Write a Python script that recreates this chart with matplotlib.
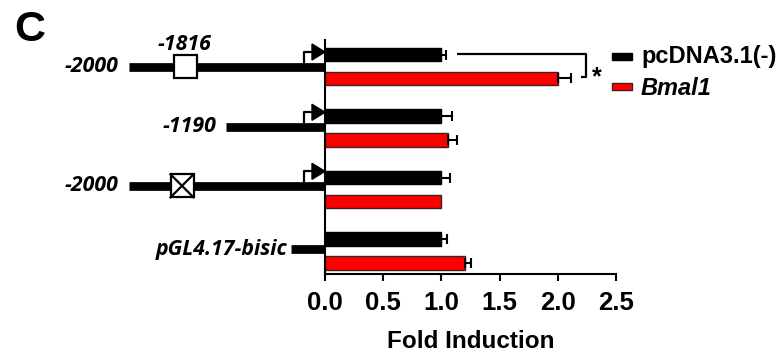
import matplotlib.pyplot as plt
from matplotlib.patches import Rectangle, Polygon

# fold induction per construct (top to bottom)
constructs = ['-2000', '-1190', '-2000 (mut)', 'pGL4.17-bisic']
ctrl_mean = [1.0, 1.0, 1.0, 1.0]
ctrl_err = [0.04, 0.095, 0.07, 0.05]
bmal_mean = [2.0, 1.06, 1.0, 1.2]
bmal_err = [0.11, 0.075, 0.0, 0.055]
xticks = [0.0, 0.5, 1.0, 1.5, 2.0, 2.5]

W, H = 784, 357
fig = plt.figure(figsize=(W / 100, H / 100), dpi=100)

# axes placement in pixels
L, R, T, B = 325, 616, 40, 274
GAP = 61.5          # pixels between construct rows
Y_TOP = 0.431       # group units above first row
ax = fig.add_axes([L / W, 1 - B / H, (R - L) / W, (B - T) / H])
ax.set_facecolor('none')
ax.set_xlim(0, 2.5)
ax.set_ylim((B - T) / GAP - Y_TOP, -Y_TOP)

def px(x):
    return (x - L) / (R - L) * 2.5

def py(y):
    return (y - T) / GAP - Y_TOP

def dy(p):
    return p / GAP

ys = list(range(len(constructs)))
off, bh = 0.195, 0.22
ax.barh([y - off for y in ys], ctrl_mean, height=bh, color='black', edgecolor='black', lw=1, zorder=2)
ax.barh([y + off for y in ys], bmal_mean, height=bh, color='#ff0000', edgecolor='#402020', lw=1, zorder=2)
for i in ys:
    if ctrl_err[i] > 0:
        ax.errorbar(ctrl_mean[i], i - off, xerr=[[0], [ctrl_err[i]]], fmt='none',
                    ecolor='black', elinewidth=1.5, capsize=3.5, capthick=1.5, zorder=3)
    if bmal_err[i] > 0:
        ax.errorbar(bmal_mean[i], i + off, xerr=[[0], [bmal_err[i]]], fmt='none',
                    ecolor='black', elinewidth=1.5, capsize=3.5, capthick=1.5, zorder=3)

for s in ['top', 'right']:
    ax.spines[s].set_visible(False)
ax.spines['left'].set_linewidth(1.5)
ax.spines['bottom'].set_linewidth(1.5)
ax.set_yticks([])
ax.set_xticks(xticks)
ax.set_xticklabels([f'{t:.1f}' for t in xticks],
                   fontdict={'family': 'Liberation Sans', 'weight': 'bold', 'size': 18.5})
ax.tick_params(axis='x', length=5, width=1.5, pad=7)
ax.set_xlabel('Fold Induction', family='Liberation Sans', weight='bold', size=17.5, labelpad=11)

# promoter constructs on the left
lab_font = dict(family=['Open Sans', 'DejaVu Sans'], weight='bold', style='italic', size=15.3)
line_start = [129, 226, 129, 291]
label_right = [118, 216, 118, 287]
line_dy = [0.0, -0.02, -0.06, -0.03]
for i in ys:
    yl = i + line_dy[i]
    ax.plot([px(line_start[i]), 0], [yl, yl], color='black', lw=6.3,
            solid_capstyle='butt', clip_on=False, zorder=1)
    lab = constructs[i].replace(' (mut)', '')
    ax.text(px(label_right[i]), yl, lab, ha='right', va='center', clip_on=False, **lab_font)
    if i < 3:
        # transcription start arrow
        ya = yl - dy(14.5)
        ax.plot([px(304), px(304), px(313)], [yl - dy(4), ya, ya], color='black', lw=1.6,
                clip_on=False, zorder=1, solid_capstyle='butt')
        ax.add_patch(Polygon([(px(312), ya - dy(8)), (px(312), ya + dy(8)), (px(325), ya)],
                             closed=True, color='black', clip_on=False, zorder=1))

# E-box elements
for i, cx, crossed in [(0, 185, False), (2, 182, True)]:
    yl = i + line_dy[i]
    x0, x1 = px(cx - 11.5), px(cx + 11.5)
    y0, y1 = yl - dy(11.5), yl + dy(11.5)
    ax.add_patch(Rectangle((x0, y0), x1 - x0, y1 - y0, facecolor='white', edgecolor='black',
                           lw=1.6, clip_on=False, zorder=4))
    if crossed:
        ax.plot([x0, x1], [y0, y1], color='black', lw=1.6, clip_on=False, zorder=5)
        ax.plot([x0, x1], [y1, y0], color='black', lw=1.6, clip_on=False, zorder=5)
ax.text(px(185), py(45), '-1816', ha='center', va='center', clip_on=False, **lab_font)

# significance bracket
ax.plot([px(457), px(586), px(586), px(581)], [py(54), py(54), py(77), py(77)],
        color='black', lw=1.6, clip_on=False, solid_capstyle='butt')
ax.text(px(597), py(84), '*', ha='center', va='baseline', family='Liberation Sans',
        weight='bold', size=18, clip_on=False)

# legend
def fig_rect(x, y, w, h, fc, ec):
    fig.add_artist(Rectangle((x / W, 1 - (y + h) / H), w / W, h / H, transform=fig.transFigure,
                             facecolor=fc, edgecolor=ec, lw=1))

fig_rect(612, 53, 20, 7, 'black', 'black')
fig_rect(612, 83, 20, 7, '#ff0000', '#402020')
fig.text(641 / W, 1 - 63 / H, 'pcDNA3.1(-)', family='Liberation Sans', weight='bold', size=17,
         va='baseline')
fig.text(641 / W, 1 - 95 / H, 'Bmal1', family='Liberation Sans', weight='bold', style='italic',
         size=17, va='baseline')

fig.text(14 / W, 1 - 30 / H, 'C', family='Liberation Sans', weight='bold', size=31, va='center')

fig.savefig('out.png', dpi=100)
